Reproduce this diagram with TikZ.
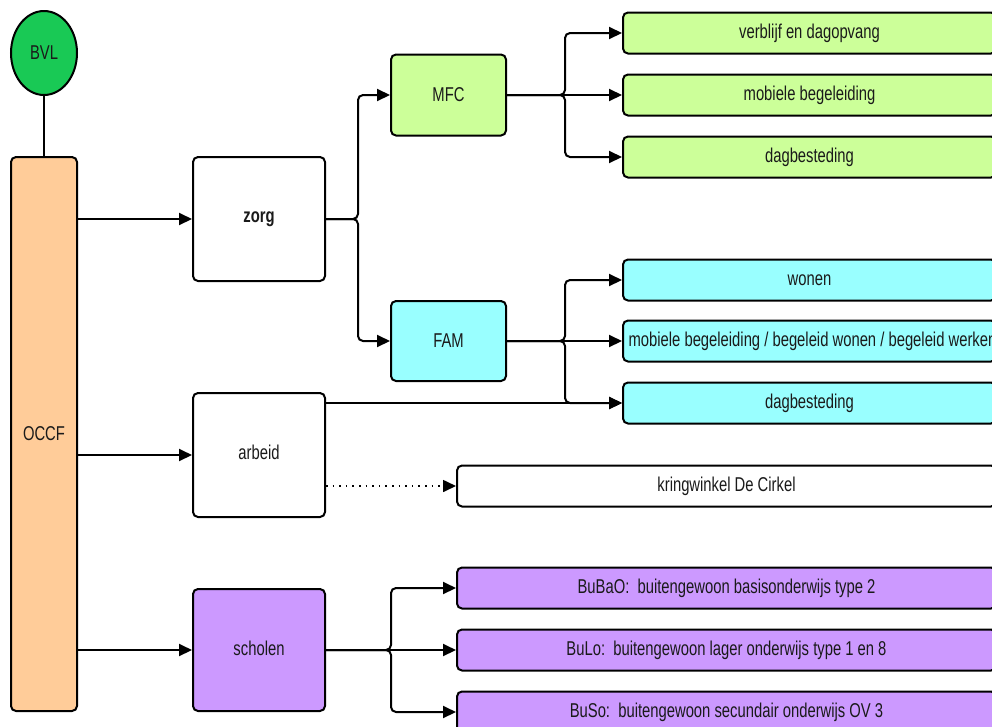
\documentclass[tikz,border=0pt]{standalone}
\usepackage{fontspec}
\setmainfont{Liberation Sans}[FakeStretch=0.74]
\usetikzlibrary{arrows.meta,shapes.geometric}
\definecolor{bvlgreen}{HTML}{19C955}
\definecolor{peach}{HTML}{FFCC99}
\definecolor{lgreen}{HTML}{CCFF99}
\definecolor{lcyan}{HTML}{99FFFF}
\definecolor{lpurple}{HTML}{CC99FF}
\definecolor{txtc}{HTML}{1A1A1A}
\begin{document}
\begin{tikzpicture}[x=1pt,y=-1pt,
  txt/.style={text=txtc,font=\fontsize{20}{24}\selectfont,inner sep=0pt},
  box/.style={draw=black,line width=2pt,rounded corners=5pt,inner sep=0pt},
  wide/.style={box,minimum width=373pt,minimum height=41pt},
  wider/.style={box,minimum width=539pt,minimum height=41pt},
  mid/.style={box,minimum width=132pt,minimum height=124pt},
  small/.style={box,minimum width=115pt,minimum height=81pt},
  conn/.style={line width=2pt,rounded corners=5pt},
  arr/.style={conn,-{Triangle[length=13pt,width=12pt]}},
  dotarr/.style={line width=1.6pt,dash pattern=on 1.6pt off 5pt,-{Triangle[length=13pt,width=12pt]}}
]
\useasboundingbox (0,0) rectangle (992,726);
\fill[white] (0,0) rectangle (992,726);

% left column
\node[ellipse,draw=black,line width=2pt,fill=bvlgreen,minimum width=66pt,minimum height=84pt,inner sep=0pt,
      label={[txt]center:BVL}] (bvl) at (44,53) {};
\node[box,fill=peach,minimum width=66pt,minimum height=554pt,label={[txt]center:OCCF}] (occf) at (44,434) {};

% middle column
\node[mid,fill=white,label={[txt,font=\fontsize{20}{24}\selectfont\bfseries]center:zorg}] (zorg) at (259,219) {};
\node[mid,fill=white,label={[txt,yshift=3pt]center:arbeid}] (arbeid) at (259,455) {};
\node[mid,fill=lpurple,minimum height=122pt,label={[txt,yshift=2pt]center:scholen}] (scholen) at (259,650) {};

\node[small,fill=lgreen,label={[txt]center:MFC}] (mfc) at (448.5,95) {};
\node[small,fill=lcyan,minimum height=80pt,label={[txt]center:FAM}] (fam) at (448.5,341) {};

% right column
\node[wide,fill=lgreen,label={[txt]center:verblijf en dagopvang}] (g1) at (809.5,33) {};
\node[wide,fill=lgreen,label={[txt]center:mobiele begeleiding}] (g2) at (809.5,95) {};
\node[wide,fill=lgreen,label={[txt]center:dagbesteding}] (g3) at (809.5,157) {};

\node[wide,fill=lcyan,label={[txt]center:wonen}] (c1) at (809.5,280) {};
\node[wide,fill=lcyan,label={[txt,xshift=3pt]center:mobiele begeleiding / begeleid wonen / begeleid werken}] (c2) at (809.5,341) {};
\node[wide,fill=lcyan,label={[txt]center:dagbesteding}] (c3) at (809.5,403) {};

\node[wider,fill=white,label={[txt]center:kringwinkel De Cirkel}] (kring) at (726.5,486) {};

\node[wider,fill=lpurple,label={[txt]center:BuBaO:\ \ buitengewoon basisonderwijs type 2}] (p1) at (726.5,588) {};
\node[wider,fill=lpurple,label={[txt]center:BuLo:\ \ buitengewoon lager onderwijs type 1 en 8}] (p2) at (726.5,650) {};
\node[wider,fill=lpurple,label={[txt]center:BuSo:\ \ buitengewoon secundair onderwijs OV 3}] (p3) at (726.5,712) {};

% connectors
\draw[conn] (bvl.south) -- (occf.north);
\draw[arr] (occf.east |- zorg.west) -- (zorg.west);
\draw[arr] (occf.east |- arbeid.west) -- (arbeid.west);
\draw[arr] (occf.east |- scholen.west) -- (scholen.west);

\draw[arr] (zorg.east) -- ++(32,0) |- (mfc.west);
\draw[arr] (zorg.east) -- ++(32,0) |- (fam.west);

\draw[arr] (mfc.east) -- ++(58,0) |- (g1.west);
\draw[arr] (mfc.east) -- (g2.west);
\draw[arr] (mfc.east) -- ++(58,0) |- (g3.west);

\draw[arr] (fam.east) -- ++(58,0) |- (c1.west);
\draw[arr] (fam.east) -- (c2.west);
\draw[arr] (fam.east) -- ++(58,0) |- (c3.west);

\draw[arr] (arbeid.east |- c3.west) -- (c3.west);
\draw[dotarr] (arbeid.east |- kring.west) -- (kring.west);

\draw[arr] (scholen.east) -- ++(65,0) |- (p1.west);
\draw[arr] (scholen.east) -- (p2.west);
\draw[arr] (scholen.east) -- ++(65,0) |- (p3.west);
\end{tikzpicture}
\end{document}
